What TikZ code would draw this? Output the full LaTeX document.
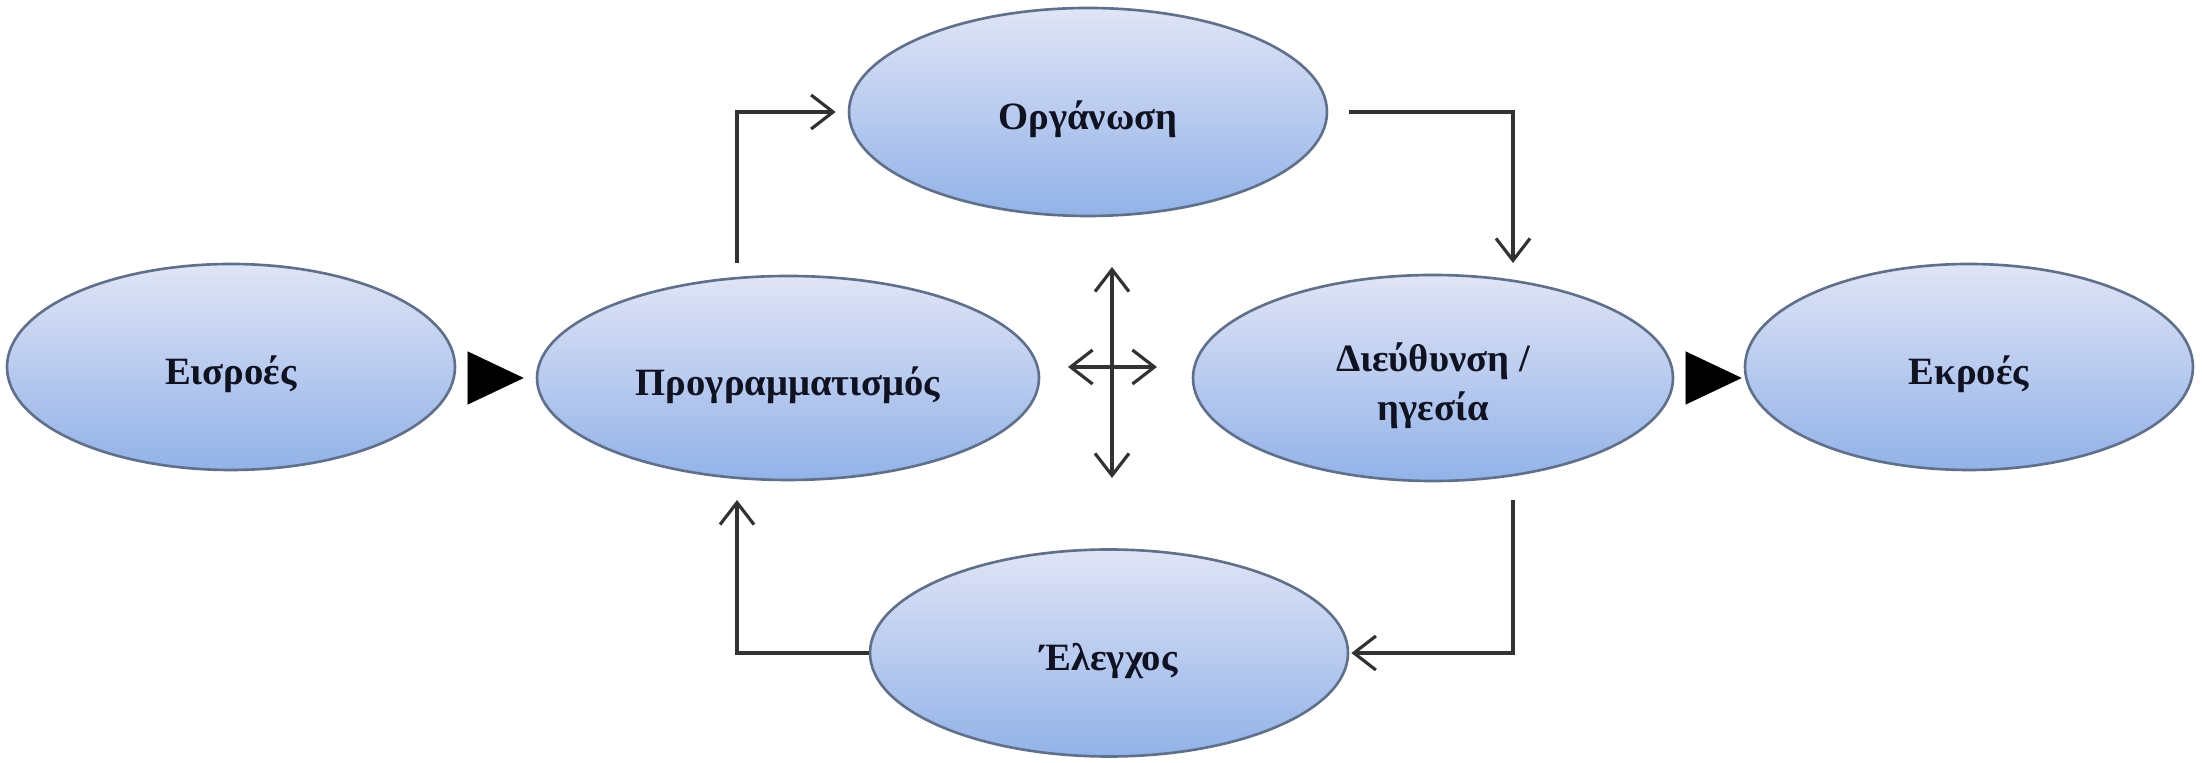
\documentclass[tikz,border=0pt]{standalone}
\usepackage{fontspec}
\setmainfont{Liberation Serif}
\usetikzlibrary{arrows.meta,shapes.geometric}
\definecolor{topc}{RGB}{224,228,246}
\definecolor{botc}{RGB}{146,178,232}
\definecolor{bordc}{RGB}{96,112,138}
\definecolor{linec}{RGB}{50,50,50}
\definecolor{textc}{RGB}{16,18,34}
\newcommand\lowtxt[1]{\raisebox{-0.08cm}[\height][\depth]{\begin{tabular}{@{}c@{}}#1\end{tabular}}}
\tikzset{
  bub/.style={ellipse, draw=bordc, line width=0.75pt, top color=topc, bottom color=botc,
    inner sep=0pt, font=\fontsize{11}{14}\selectfont\bfseries, text=textc, align=center},
  arr/.style={draw=linec, line width=0.9pt, -{Straight Barb[length=0.22cm,width=0.34cm]}},
  arrboth/.style={draw=linec, line width=0.9pt, {Straight Barb[length=0.22cm,width=0.34cm]}-{Straight Barb[length=0.22cm,width=0.34cm]}},
  tri/.style={draw=black, line width=0.1pt, -{Triangle[length=0.56cm,width=0.53cm]}}
}
\begin{document}
\begin{tikzpicture}
\useasboundingbox (0,0) rectangle (22.02,-7.63);
\node[bub, minimum width=4.48cm, minimum height=2.06cm] (eis) at (2.31,-3.67) {\lowtxt{Εισροές}};
\node[bub, minimum width=5.02cm, minimum height=2.04cm] (prog) at (7.88,-3.78) {\lowtxt{Προγραμματισμός}};
\node[bub, minimum width=4.78cm, minimum height=2.08cm] (org) at (10.88,-1.12) {\lowtxt{Οργάνωση}};
\node[bub, minimum width=4.80cm, minimum height=2.06cm] (dir) at (14.33,-3.78) {\lowtxt{Διεύθυνση /\\ηγεσία}};
\node[bub, minimum width=4.48cm, minimum height=2.06cm] (ekr) at (19.69,-3.67) {\lowtxt{Εκροές}};
\node[bub, minimum width=4.78cm, minimum height=2.07cm] (ele) at (11.09,-6.53) {\lowtxt{Έλεγχος}};

\coordinate (a1) at (7.37,-2.63);
\coordinate (b1) at (15.13,-2.63);
\coordinate (c1) at (15.13,-5.00);
\coordinate (d1) at (7.37,-5.00);
\coordinate (v1) at (11.12,-2.67);
\coordinate (v2) at (11.12,-4.78);
\coordinate (h1) at (10.68,-3.67);
\coordinate (h2) at (11.57,-3.67);

\draw[arr] (a1) |- ([xshift=-0.12cm]org.west);
\draw[arr] ([xshift=0.21cm]org.east) -| (b1);
\draw[arr] (c1) |- ([xshift=0.02cm]ele.east);
\draw[arr] (ele.west) -| (d1);
\draw[arrboth] (v1) -- (v2);
\draw[arrboth] (h1) -- (h2);

\draw[tri, shorten <=0.13cm, shorten >=0.12cm] (eis.east |- prog.west) -- (prog.west);
\draw[tri, shorten <=0.16cm, shorten >=0.02cm] (dir.east) -- (dir.east -| ekr.west);
\end{tikzpicture}
\end{document}
